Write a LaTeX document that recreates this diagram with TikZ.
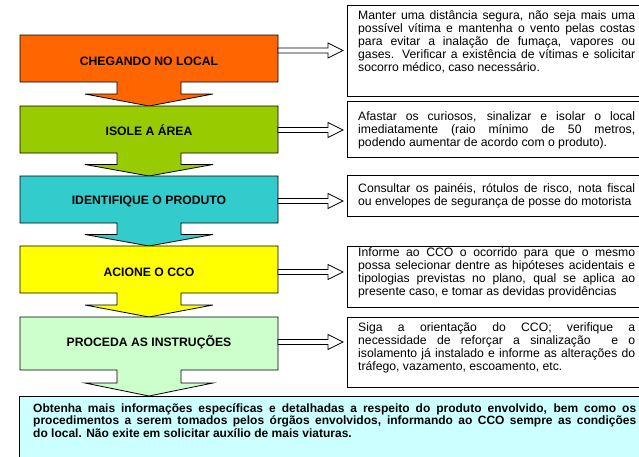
\documentclass[tikz,border=0pt]{standalone}
\usepackage{fontspec}
\setmainfont{Liberation Sans}
\definecolor{cOrange}{HTML}{FF6600}
\definecolor{cGreen}{HTML}{99CC00}
\definecolor{cTeal}{HTML}{33CCCC}
\definecolor{cYellow}{HTML}{FFFF00}
\definecolor{cLight}{HTML}{CCFFCC}
\definecolor{cCyan}{HTML}{CCFFFF}
\tikzset{
  blk/.style={draw=black, line width=0.8pt, line join=miter},
  lbl/.style={font=\fontsize{12.2}{13}\selectfont\bfseries, inner sep=0pt, anchor=center},
  rbox/.style={draw=black, line width=0.8pt, anchor=north west, minimum width=300pt, inner sep=0pt},
  rtext/.style={font=\fontsize{12.2}{13}\selectfont, text width=277pt, align=justify, inner sep=0pt, anchor=base west},
  btext/.style={font=\fontsize{12}{12.6}\selectfont\bfseries, text width=603pt, align=justify, inner sep=0pt, anchor=base west},
}
\newcommand\stepshape[4]{% top, bottom, next top, colour
  \pgfmathsetmacro\stemend{#2+(#3-#2)/2}
  \draw[blk, fill=#4] (20,#1) -- (278,#1) -- (278,#2) -- (181,#2) -- (181,\stemend) -- (213,\stemend)
    -- (149,#3) -- (85,\stemend) -- (117,\stemend) -- (117,#2) -- (20,#2) -- cycle;}
\newcommand\sidearrow[1]{%
  \draw[blk, fill=white] (278,#1-2.5) -- (328,#1-2.5) -- (328,#1-7.5) -- (343,#1) -- (328,#1+7.5)
    -- (328,#1+2.5) -- (278,#1+2.5) -- cycle;}
\begin{document}
\begin{tikzpicture}[x=1pt,y=-1pt]
\useasboundingbox (0,0) rectangle (639,456);
\fill[white] (0,0) rectangle (639,456);
% left steps
\stepshape{35}{82}{106}{cOrange}
\stepshape{106}{153}{176}{cGreen}
\stepshape{176}{223}{246}{cTeal}
\stepshape{246}{293}{317}{cYellow}
\stepshape{317}{370}{396}{cLight}
\node[lbl] (s1) at (149,61) {CHEGANDO NO LOCAL};
\node[lbl] (s2) at (149,130) {ISOLE A ÁREA};
\node[lbl] (s3) at (149,201) {IDENTIFIQUE O PRODUTO};
\node[lbl] (s4) at (149,272) {ACIONE O CCO};
\node[lbl] (s5) at (149,342) {PROCEDA AS INSTRUÇÕES};
% side arrows
\sidearrow{50.5}
\sidearrow{130}
\sidearrow{201}
\sidearrow{272}
\sidearrow{342}
% right boxes
\node[rbox, minimum height=91pt] (r1) at (347,5) {};
\node[rbox, minimum height=56pt] (r2) at (347,101) {};
\node[rbox, minimum height=41pt] (r3) at (347,175) {};
\node[rbox, minimum height=61pt] (r4) at (347,246) {};
\node[rbox, minimum height=70pt] (r5) at (347,317) {};
\node[rtext] (t1) at (358,19) {Manter uma distância segura, não seja mais uma\linebreak possível vítima e mantenha o vento pelas costas\linebreak para evitar a inalação de fumaça, vapores ou\linebreak gases. Verificar a existência de vítimas e solicitar\linebreak socorro médico, caso necessário.};
\node[rtext] (t2) at (358,120) {Afastar os curiosos, sinalizar e isolar o local\linebreak imediatamente (raio mínimo de 50 metros,\linebreak podendo aumentar de acordo com o produto).};
\node[rtext] (t3) at (358,192) {Consultar os painéis, rótulos de risco, nota fiscal\linebreak ou envelopes de segurança de posse do motorista};
\node[rtext] (t4) at (358,256) {Informe ao CCO o ocorrido para que o mesmo\linebreak possa selecionar dentre as hipóteses acidentais e\linebreak tipologias previstas no plano, qual se aplica ao\linebreak presente caso, e tomar as devidas providências};
\node[rtext] (t5) at (358,331) {Siga a orientação do CCO; verifique a\linebreak necessidade de reforçar a sinalização\ \ e o\linebreak isolamento já instalado e informe as alterações do\linebreak tráfego, vazamento, escoamento, etc.};
% bottom box
\node[blk, fill=cCyan, anchor=north west, minimum width=640pt, minimum height=80pt, inner sep=0pt] (b) at (19,396) {};
\node[btext] (bt) at (33,412) {Obtenha mais informações específicas e detalhadas a respeito do produto envolvido, bem como os\linebreak procedimentos a serem tomados pelos órgãos envolvidos, informando ao CCO sempre as condições\linebreak do local. Não exite em solicitar auxílio de mais viaturas.};
\end{tikzpicture}
\end{document}
